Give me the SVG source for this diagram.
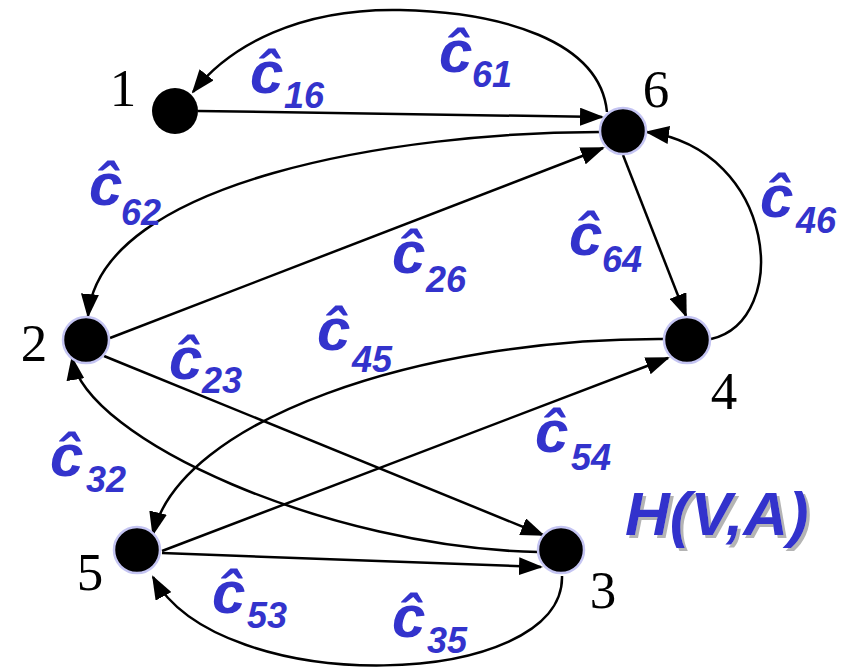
<svg xmlns="http://www.w3.org/2000/svg" width="852" height="672" viewBox="0 0 852 672">
<defs>
<marker id="ah" markerWidth="24" markerHeight="18" refX="22" refY="9" orient="auto" markerUnits="userSpaceOnUse" viewBox="0 0 24 18"><path d="M0,0 L24,9 L0,18 z" fill="#000"/></marker>
<filter id="sh" x="-10%" y="-10%" width="130%" height="140%">
<feOffset in="SourceAlpha" dx="3" dy="3" result="o"/>
<feFlood flood-color="#b4b4b4"/>
<feComposite in2="o" operator="in" result="g"/>
<feMerge><feMergeNode in="g"/><feMergeNode in="SourceGraphic"/></feMerge>
</filter>
</defs>
<style>
.e{fill:none;stroke:#000;stroke-width:2.5;marker-end:url(#ah)}
.n{fill:#000;stroke:#c4c4f2;stroke-width:2.5}
.num{font-family:"Liberation Serif",serif;font-size:53px;fill:#000;text-anchor:middle}
.c{font-family:"Liberation Sans",Arial,sans-serif;font-weight:bold;font-style:italic;font-size:60px;fill:#3333cc}
.s{font-size:36px}
.t{font-family:"Liberation Sans",Arial,sans-serif;font-weight:bold;font-style:italic;font-size:62px;fill:#3333cc}
</style>
<rect width="852" height="672" fill="#fff"/>
<g id="connectors">
<path class="e" d="M198 111 L602 117"/>
<path class="e" d="M607 112 C600 40 500 12 400 10 C300 8 230 45 193 92"/>
<path class="e" d="M600 132 C400 132 100 180 88 316"/>
<path class="e" d="M110 338 L603 148"/>
<path class="e" d="M104 356 L543 535"/>
<path class="e" d="M538 552 C330 548 85 440 72 358"/>
<path class="e" d="M623 155 L686 316"/>
<path class="e" d="M711 339 C792 320 777 150 647 132"/>
<path class="e" d="M663 339 C420 338 180 420 153 534"/>
<path class="e" d="M162 551 L668 358"/>
<path class="e" d="M162 553 L541 567"/>
<path class="e" d="M562 576 C565 690 220 700 153 577"/>
</g>
<g id="node1"><circle cx="175" cy="111" r="23" fill="#000"/><text class="num" x="123" y="106">1</text></g>
<g id="node6"><circle class="n" cx="623" cy="131" r="23"/><text class="num" x="656" y="107">6</text></g>
<g id="node2"><circle class="n" cx="86" cy="340" r="23"/><text class="num" x="34" y="361">2</text></g>
<g id="node4"><circle class="n" cx="687" cy="340" r="23"/><text class="num" x="724" y="409">4</text></g>
<g id="node5"><circle class="n" cx="137" cy="550" r="23"/><text class="num" x="90" y="590">5</text></g>
<g id="node3"><circle class="n" cx="561" cy="550" r="23"/><text class="num" x="603" y="608">3</text></g>
<g id="labels">
<text class="c" x="250" y="93">ĉ<tspan class="s" x="284" y="108">16</tspan></text>
<text class="c" x="439" y="72">ĉ<tspan class="s" x="472" y="87">61</tspan></text>
<text class="c" x="89" y="205">ĉ<tspan class="s" x="121" y="225">62</tspan></text>
<text class="c" x="392" y="273">ĉ<tspan class="s" x="426" y="292">26</tspan></text>
<text class="c" x="569" y="255">ĉ<tspan class="s" x="602" y="272">64</tspan></text>
<text class="c" x="760" y="217">ĉ<tspan class="s" x="796" y="233">46</tspan></text>
<text class="c" x="317" y="350">ĉ<tspan class="s" x="352" y="372">45</tspan></text>
<text class="c" x="169" y="379">ĉ<tspan class="s" x="202" y="393">23</tspan></text>
<text class="c" x="50" y="476">ĉ<tspan class="s" x="86" y="492">32</tspan></text>
<text class="c" x="535" y="452">ĉ<tspan class="s" x="571" y="470">54</tspan></text>
<text class="c" x="212" y="613">ĉ<tspan class="s" x="247" y="628">53</tspan></text>
<text class="c" x="392" y="637">ĉ<tspan class="s" x="427" y="653">35</tspan></text>
</g>
<g id="title">
<text class="t" x="625" y="535" filter="url(#sh)">H(V,A)</text>
</g>
</svg>
